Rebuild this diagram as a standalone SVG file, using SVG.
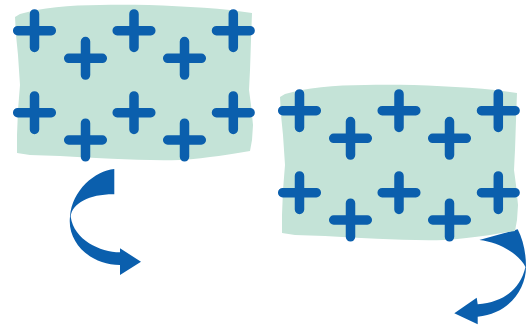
<svg xmlns="http://www.w3.org/2000/svg" xmlns:xlink="http://www.w3.org/1999/xlink" width="526" height="334" viewBox="0 0 526 334">
<style>
.panel{fill:#c4e3d7;stroke:none}
.plus{stroke:#0b5fad;stroke-width:9.5;stroke-linecap:round;fill:none}
.arrow{fill:#0b5fad;stroke:none}
</style>
<defs>
<path id="sheet" d="M15,17 L20,14 C40,8 70,5 100,5 C140,4 190,6 230,10 L252,13 L251,40 L250,70 L249,90 L251,105 L253,125 L252,140 L250,151 C230,154 210,158 180,160 C140,161 100,158 60,156 L30,155 L17,153 L17,135 L18,110 L20,85 L18,55 L16,35 Z"/>
<path id="pl" d="M-16.8,0 H16.8 M0,-16.8 V16.8"/>
<g id="pluses" class="plus">
<use xlink:href="#pl" href="#pl" x="34.5" y="30.7"/>
<use xlink:href="#pl" href="#pl" x="134" y="30.7"/>
<use xlink:href="#pl" href="#pl" x="233.3" y="30.7"/>
<use xlink:href="#pl" href="#pl" x="85.5" y="58.3"/>
<use xlink:href="#pl" href="#pl" x="184.5" y="58.3"/>
<use xlink:href="#pl" href="#pl" x="34.5" y="112.7"/>
<use xlink:href="#pl" href="#pl" x="134" y="112.7"/>
<use xlink:href="#pl" href="#pl" x="233.3" y="112.7"/>
<use xlink:href="#pl" href="#pl" x="85.5" y="140"/>
<use xlink:href="#pl" href="#pl" x="184.5" y="140"/>
</g>
</defs>
<g id="connectors">
<path id="arrow-1" class="arrow" d="M114.3,169 C95,171 72,190 70,216.7 C67,242 90,265 120,265 L120,275 L141,261.7 L120,248.3 L120,252.3 C100,252 74,240 70.7,216.7 C72,203 90,194 114.3,194.3 Z"/>
<path id="arrow-2" class="arrow" d="M517.7,229.3 C523,240 526,252 526,267 C526,290 508,314 477.7,316.7 L477.7,324.3 L454.3,313.3 L476.7,297.7 L477.7,304.3 C503,302 520,290 525.5,267 C520,255 500,242 479.3,240 Z"/>
</g>
<g id="panel-1">
<use xlink:href="#sheet" href="#sheet" class="panel"/>
<use xlink:href="#pluses" href="#pluses"/>
</g>
<g id="panel-2" transform="translate(265,80)">
<use xlink:href="#sheet" href="#sheet" class="panel"/>
<use xlink:href="#pluses" href="#pluses"/>
</g>
</svg>
